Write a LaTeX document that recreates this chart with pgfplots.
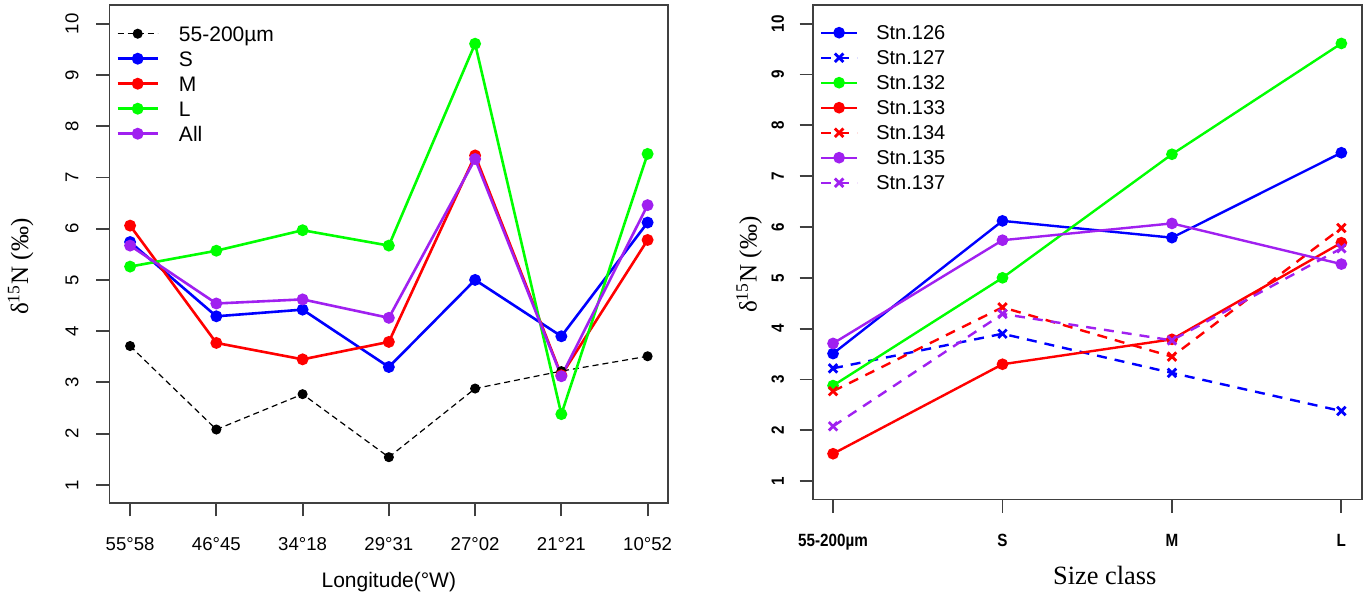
\documentclass[border=0pt]{standalone}
\usepackage{pgfplots}
\usepackage{pgfplotstable}
\pgfplotsset{compat=1.18}
\usepackage{fontspec}
\setmainfont{Liberation Sans}
\newfontfamily\seriffont{Liberation Serif}
\newfontfamily\condfont[FakeStretch=0.86]{Liberation Sans}

\definecolor{rblue}{RGB}{0,0,255}
\definecolor{rred}{RGB}{255,0,0}
\definecolor{rgreen}{RGB}{0,255,0}
\definecolor{rpurple}{RGB}{160,32,240}

\pgfplotstableread{
x fine S M L All
1 3.71 5.74 6.06 5.26 5.67
2 2.08 4.29 3.77 5.57 4.54
3 2.77 4.42 3.45 5.97 4.62
4 1.54 3.30 3.79 5.67 4.26
5 2.88 5.00 7.43 9.61 7.36
6 3.22 3.90 3.14 2.38 3.12
7 3.51 6.12 5.78 7.46 6.46
}\lefttable

\pgfplotstableread{
x s126 s127 s132 s133 s134 s135 s137
1 3.51 3.22 2.88 1.54 2.77 3.71 2.08
2 6.12 3.90 5.00 3.30 4.42 5.74 4.29
3 5.79 3.13 7.43 3.79 3.45 6.07 3.77
4 7.46 2.38 9.61 5.69 5.98 5.27 5.58
}\righttable

\pgfplotsset{
  rstyle/.style={
    scale only axis,
    axis line style={black!75, line width=0.9pt},
    every tick/.style={black!75, line width=0.9pt},
    tick align=outside,
    major tick length=6.5pt,
    xtick pos=left, ytick pos=left,
    ymin=0.64, ymax=10.36,
    ytick={1,2,3,4,5,6,7,8,9,10},
    /pgf/number format/assume math mode=true,
    yticklabel style={rotate=90, anchor=base},
    xticklabel style={anchor=base},
    legend cell align=left,
  },
  solidc/.style={#1, solid, line width=1.3pt, mark=*, mark size=2.3pt, mark options={solid, fill=#1, draw=#1}},
  dashx/.style={#1, line width=1.2pt, dash pattern=on 5pt off 4pt, mark=x, mark size=3pt, mark options={solid, line width=1.4pt, draw=#1}},
}

\begin{document}
\begin{tikzpicture}
\useasboundingbox (0pt,0pt) rectangle (682pt,297pt);
% ---------------- left panel ----------------
\begin{axis}[rstyle,
  at={(54.7pt,45.35pt)}, anchor=south west,
  width=279.45pt, height=249pt,
  xmin=0.76, xmax=7.24,
  xtick={1,2,3,4,5,6,7},
  xticklabels={55°58,46°45,34°18,29°31,27°02,21°21,10°52},
  tick label style={font=\fontsize{9.3}{11}\selectfont},
  yticklabel shift=9.05pt,
  xticklabel shift=17pt,
  xlabel={Longitude(°W)},
  xlabel style={at={(axis description cs:0.5,0)}, anchor=center, yshift=-39.2pt, font=\fontsize{10.5}{12}\selectfont},
  ylabel={\seriffont δ\textsuperscript{15}N (‰)},
  ylabel style={at={(axis description cs:-0.159,0.475)}, anchor=center, font=\fontsize{12.5}{14}\selectfont},
  legend style={at={(axis description cs:0,1)}, anchor=north west, xshift=3.3pt, yshift=-7.75pt,
    draw=none, fill=none, inner sep=0pt, row sep=0pt, column sep=10pt,
    font=\fontsize{10.5}{12}\selectfont,
    nodes={inner sep=0pt, text height=10pt, text depth=2.5pt}},
  legend image code/.code={\draw[mark repeat=2,mark phase=2,#1] plot coordinates {(0pt,0pt)(10pt,0pt)(20pt,0pt)};},
]
\addplot[black, line width=0.6pt, dash pattern=on 3pt off 2pt, mark=*, mark size=2.2pt, mark options={solid, fill=black}] table[x=x, y=fine] {\lefttable};
\addlegendentry{55-200µm}
\addplot[solidc=rblue] table[x=x, y=S] {\lefttable};
\addlegendentry{S}
\addplot[solidc=rred] table[x=x, y=M] {\lefttable};
\addlegendentry{M}
\addplot[solidc=rgreen] table[x=x, y=L] {\lefttable};
\addlegendentry{L}
\addplot[solidc=rpurple] table[x=x, y=All] {\lefttable};
\addlegendentry{All}
\end{axis}
% ---------------- right panel ----------------
\begin{axis}[rstyle,
  at={(406.35pt,47.25pt)}, anchor=south west,
  width=274.5pt, height=247.1pt,
  xmin=0.88, xmax=4.12,
  xtick={1,2,3,4},
  xticklabels={55-200µm,S,M,L},
  tick label style={font=\condfont\bfseries\fontsize{8.85}{10}\selectfont},
  yticklabel shift=7.95pt,
  xticklabel shift=16.75pt,
  xlabel={\seriffont Size class},
  xlabel style={at={(axis description cs:0.532,0)}, anchor=center, yshift=-37.75pt, font=\fontsize{13.2}{15}\selectfont},
  ylabel={\seriffont δ\textsuperscript{15}N (‰)},
  ylabel style={at={(axis description cs:-0.1157,0.475)}, anchor=center, font=\fontsize{12.5}{14}\selectfont},
  legend style={at={(axis description cs:0,1)}, anchor=north west, xshift=3.4pt, yshift=-7.25pt,
    draw=none, fill=none, inner sep=0pt, row sep=0pt, column sep=9pt,
    font=\fontsize{10}{12}\selectfont,
    nodes={inner sep=0pt, text height=9.83pt, text depth=2.67pt}},
  legend image code/.code={\draw[mark repeat=2,mark phase=2,#1] plot coordinates {(0pt,0pt)(9pt,0pt)(18pt,0pt)};},
]
\addplot[solidc=rblue, line width=1.2pt] table[x=x, y=s126] {\righttable};
\addlegendentry{Stn.126}
\addplot[dashx=rblue] table[x=x, y=s127] {\righttable};
\addlegendentry{Stn.127}
\addplot[solidc=rgreen, line width=1.2pt] table[x=x, y=s132] {\righttable};
\addlegendentry{Stn.132}
\addplot[solidc=rred, line width=1.2pt] table[x=x, y=s133] {\righttable};
\addlegendentry{Stn.133}
\addplot[dashx=rred] table[x=x, y=s134] {\righttable};
\addlegendentry{Stn.134}
\addplot[solidc=rpurple, line width=1.2pt] table[x=x, y=s135] {\righttable};
\addlegendentry{Stn.135}
\addplot[dashx=rpurple] table[x=x, y=s137] {\righttable};
\addlegendentry{Stn.137}
\end{axis}
\end{tikzpicture}
\end{document}
